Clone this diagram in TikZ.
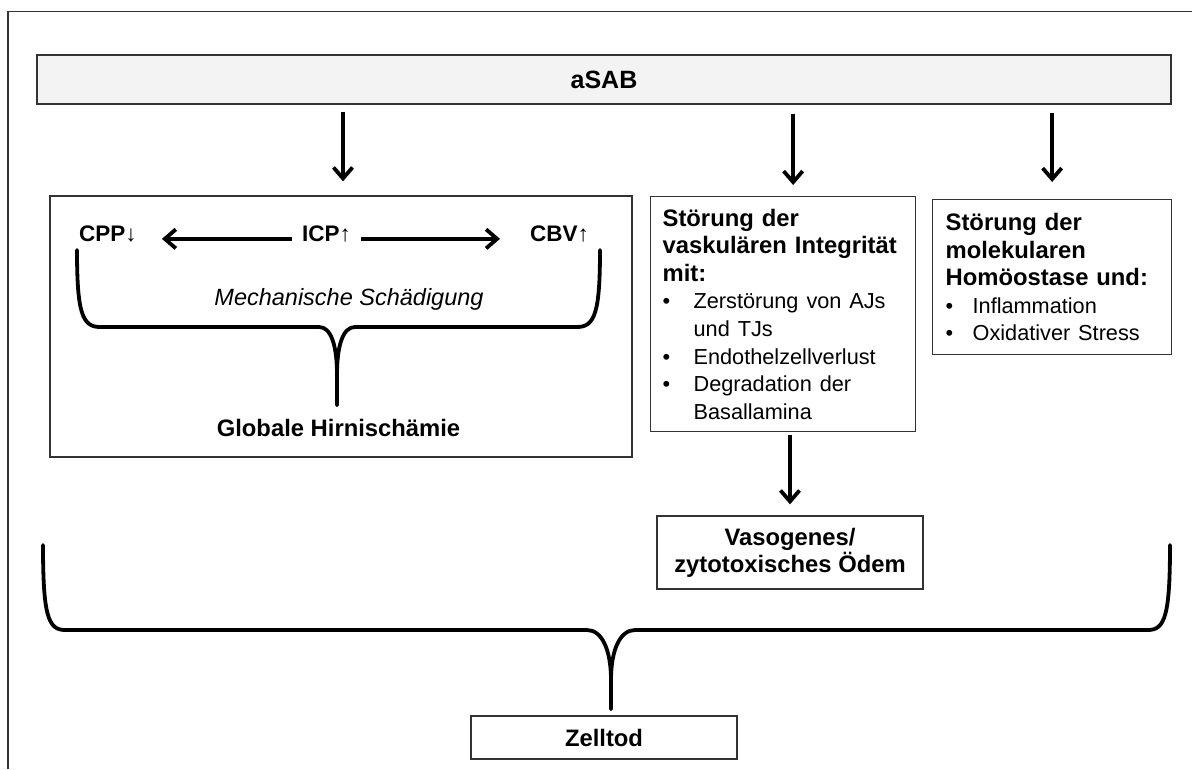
\documentclass[tikz,border=0pt]{standalone}
\usepackage{fontspec}
\setmainfont{Liberation Sans}
\usetikzlibrary{arrows.meta}
\definecolor{bord}{HTML}{333333}
\definecolor{barfill}{HTML}{F3F3F3}
\newcommand{\rgf}{\fontsize{21.7}{27.6}\selectfont\mdseries}
\newcommand{\bitemA}{\makebox[31pt][l]{\textbullet}}
\newcommand{\bitemB}{\makebox[27pt][l]{\textbullet}}
\begin{document}
\begin{tikzpicture}[x=1pt,y=-1pt,
  box/.style={draw=bord, line width=1.3pt, rectangle, inner sep=0pt},
  arr/.style={line width=3.8pt, -{Straight Barb[length=11pt,width=19pt]}},
  brace/.style={line width=3.8pt, line cap=round, line join=round},
  fb/.style={font=\fontsize{23.8}{27.6}\selectfont\bfseries},
  tx/.style={inner sep=0pt, font=\fontsize{22.5}{27}\selectfont\bfseries}]
\useasboundingbox (0,0) rectangle (1192,769);
\fill[white] (0,0) rectangle (1192,769);
\draw[draw=bord, line width=1.3pt] (8,769) -- (8,11.5) -- (1192,11.5);

% top bar
\node[box, fill=barfill, minimum width=1134pt, minimum height=49pt,
      font=\fontsize{25}{30}\selectfont\bfseries] (asab) at (604,79.5) {aSAB};

% left box
\node[box, minimum width=582pt, minimum height=261pt] (lbox) at (341,326.5) {};
\node[tx, anchor=base west] (cpp) at (79,241.5) {CPP{\mdseries↓}};
\node[tx, anchor=base west] (icp) at (302,241.5) {ICP{\mdseries↑}};
\node[tx, anchor=base west] (cbv) at (530,241.5) {CBV{\mdseries↑}};
\draw[arr] ([xshift=-10pt]icp.mid west) -- ([xshift=25pt]cpp.mid east);
\draw[arr] ([xshift=10pt]icp.mid east) -- ([xshift=-30pt]cbv.mid west);
\node[inner sep=0pt, anchor=base, font=\fontsize{23.5}{27}\selectfont\itshape] (mech) at (349,305) {Mechanische Schädigung};
\node[inner sep=0pt, anchor=base, fb] (glob) at (338.5,436) {Globale Hirnischämie};
\draw[brace] (77,250) .. controls (77,312) and (82,327) .. (100,327) -- (319,327)
  .. controls (331,327) and (337,345) .. (337,375) -- (337,405);
\draw[brace] (337,405) -- (337,375) .. controls (337,345) and (343,327) .. (355,327)
  -- (577,327) .. controls (595,327) and (600,312) .. (600,250);

% middle box
\node[box, anchor=north west, minimum width=265pt, minimum height=235pt,
      text width=241pt, inner xsep=12pt, align=left, fb] (mid) at (650,196)
  {Störung der\\vaskulären Integrität\\mit:\\
   \rgf\bitemA Zerstörung von AJs\\
   \rgf\hspace*{31pt}und TJs\\
   \rgf\bitemA Endothelzellverlust\\
   \rgf\bitemA Degradation der\\
   \rgf\hspace*{31pt}Basallamina};

% right box
\node[box, anchor=north west, minimum width=239pt, minimum height=155pt,
      text width=213pt, inner xsep=13pt, align=left, fb] (rgt) at (932,199)
  {Störung der\\molekularen\\Homöostase und:\\
   \rgf\bitemB Inflammation\\
   \rgf\bitemB Oxidativer Stress};

% oedema box
\node[box, minimum width=266pt, minimum height=73pt, align=center,
      font=\fontsize{23.8}{26.7}\selectfont\bfseries] (oedem) at (790,552.5)
  {Vasogenes/\\zytotoxisches Ödem};

% Zelltod
\node[box, minimum width=266pt, minimum height=43pt, fb] (zell) at (604,737.5) {Zelltod};

% arrows from aSAB
\coordinate (lt) at (lbox.north -| 343,0);
\coordinate (mt) at ([xshift=10pt]mid.north);
\coordinate (rt) at (rgt.north);
\draw[arr, shorten <=7pt, shorten >=14pt] (asab.south -| lt) -- (lt);
\draw[arr, shorten <=9pt, shorten >=11pt] (asab.south -| mt) -- (mt);
\draw[arr, shorten <=8pt, shorten >=17pt] (asab.south -| rt) -- (rt);
\draw[arr, shorten <=3pt, shorten >=11pt] (mid.south -| oedem.north) -- (oedem.north);

% big brace
\draw[brace] (43,545) .. controls (43,615) and (48,630) .. (65,630) -- (587,630)
  .. controls (602,630) and (611,650) .. (611,680) -- (611,709);
\draw[brace] (611,709) -- (611,680) .. controls (611,650) and (620,630) .. (635,630)
  -- (1148,630) .. controls (1165,630) and (1170,615) .. (1170,545);
\end{tikzpicture}
\end{document}
